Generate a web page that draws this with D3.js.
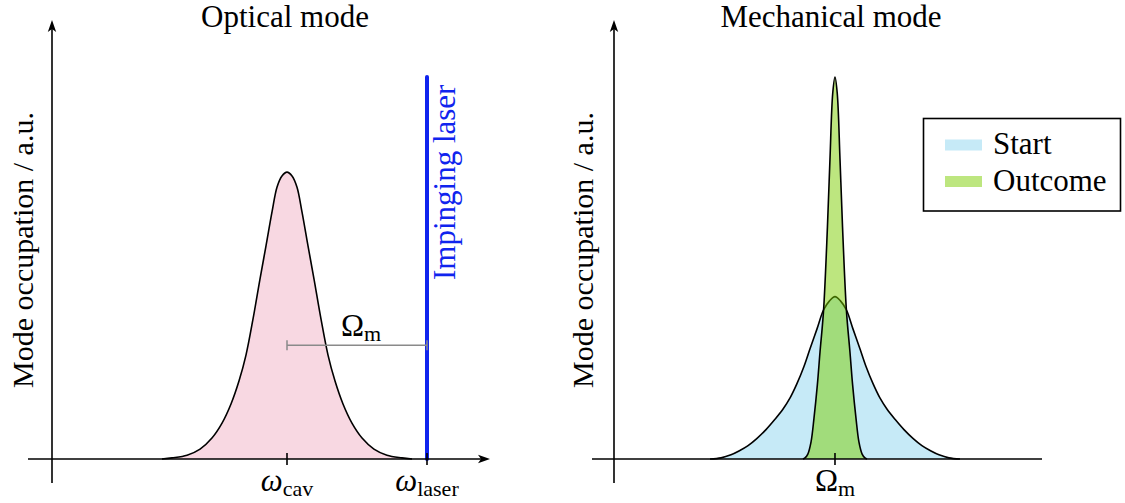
<!DOCTYPE html>
<html>
<head>
<meta charset="utf-8">
<script src="https://cdn.jsdelivr.net/npm/d3@7/dist/d3.min.js"></script>
<style>
  html, body { margin: 0; padding: 0; background: #fff; }
  svg { display: block; }
  text { font-family: "Liberation Serif", "DejaVu Serif", serif; fill: #000; }
</style>
</head>
<body>
<svg id="chart" width="1125" height="503"></svg>
<script>
// Optical cavity line shape (detuning from ω_cav in units of Ω_m, occupation in a.u.)
const opticalDetuning = [-0.893, -0.821, -0.714, -0.621, -0.536, -0.464, -0.4, -0.343, -0.293, -0.243, -0.193, -0.15, -0.107, -0.071, -0.036, 0,
                          0.036, 0.071, 0.107, 0.15, 0.193, 0.243, 0.293, 0.343, 0.4, 0.464, 0.536, 0.621, 0.714, 0.821, 0.893];
const opticalOccupation = [0, 0.003, 0.010, 0.026, 0.055, 0.094, 0.144, 0.204, 0.272, 0.366, 0.471, 0.558, 0.647, 0.712, 0.741, 0.751,
                           0.741, 0.712, 0.647, 0.558, 0.471, 0.366, 0.272, 0.204, 0.144, 0.094, 0.055, 0.026, 0.010, 0.003, 0];

// Laser line, sitting one mechanical frequency above the cavity
const laserDetuning = 1;
const laserOccupation = 1;
const dimensionLevel = 0.298;

// Mechanical mode, before cooling
const startDetuning = [-0.893, -0.814, -0.743, -0.686, -0.621, -0.557, -0.493, -0.429, -0.371, -0.321, -0.271, -0.221, -0.179, -0.129, -0.082, -0.039, 0,
                        0.039, 0.082, 0.129, 0.179, 0.221, 0.271, 0.321, 0.371, 0.429, 0.493, 0.557, 0.621, 0.686, 0.743, 0.814, 0.893];
const startOccupation = [0, 0.003, 0.011, 0.021, 0.035, 0.054, 0.077, 0.104, 0.131, 0.160, 0.198, 0.243, 0.288, 0.340, 0.390, 0.414, 0.425,
                         0.414, 0.390, 0.340, 0.288, 0.243, 0.198, 0.160, 0.131, 0.104, 0.077, 0.054, 0.035, 0.021, 0.011, 0.003, 0];

// Mechanical mode, after cooling
const outcomeDetuning = [-0.229, -0.214, -0.194, -0.171, -0.15, -0.126, -0.107, -0.082, -0.054, -0.036, -0.016, 0,
                          0.016, 0.036, 0.054, 0.082, 0.107, 0.126, 0.15, 0.171, 0.194, 0.214, 0.229];
const outcomeOccupation = [0, 0.003, 0.013, 0.045, 0.107, 0.194, 0.280, 0.387, 0.607, 0.783, 0.958, 1.0,
                           0.958, 0.783, 0.607, 0.387, 0.280, 0.194, 0.107, 0.045, 0.013, 0.003, 0];

const leftTicks = [0, 1];
const leftTickLabels = [["ω", "cav"], ["ω", "laser"]];
const rightTicks = [0];
const rightTickLabels = [["Ω", "m"]];
const panelTitles = ["Optical mode", "Mechanical mode"];
const yLabel = "Mode occupation / a.u.";
const laserLabel = "Impinging laser";
const legendLabels = ["Start", "Outcome"];

const colors = {
  optical: "#f8d8e2",
  start: "#c6eaf7",
  outcome: "rgb(123,205,0)",
  laser: "#1024ee",
  dimension: "#8a8a8a"
};

const svg = d3.select("#chart");
const FS = 31;

const y = d3.scaleLinear().domain([0, 1]).range([459, 77]);
const xL = d3.scaleLinear().domain([-1.85, 1.45]).range([28, 490]);
const xR = d3.scaleLinear().domain([-1.736, 1.479]).range([592, 1042]);

const smooth = d3.curveCatmullRom.alpha(0.5);

function zip(xs, ys) { return xs.map((v, i) => ({ x: v, y: ys[i] })); }

function area(xs) {
  return d3.area().x(d => xs(d.x)).y0(y(0)).y1(d => y(d.y)).curve(smooth);
}
function line(xs) {
  return d3.line().x(d => xs(d.x)).y(d => y(d.y)).curve(smooth);
}

function arrowUp(g, x, tip) {
  g.append("path")
    .attr("d", `M${x},${tip} L${x - 4.2},${tip + 12} L${x},${tip + 9} L${x + 4.2},${tip + 12} Z`)
    .attr("fill", "#000");
}
function arrowRight(g, tip, yy) {
  g.append("path")
    .attr("d", `M${tip},${yy} L${tip - 12},${yy - 4.2} L${tip - 9},${yy} L${tip - 12},${yy + 4.2} Z`)
    .attr("fill", "#000");
}

function subLabel(g, x, yy, main, sub, italic) {
  const t = g.append("text").attr("x", x).attr("y", yy).attr("text-anchor", "middle")
    .style("font-size", FS + "px");
  t.append("tspan").text(main).style("font-style", italic ? "italic" : "normal");
  t.append("tspan").text(sub).attr("dy", 5).style("font-size", "22px");
  return t;
}

function yAxisLabel(g, xBase) {
  g.append("text")
    .attr("transform", `translate(${xBase},250) rotate(-90)`)
    .attr("text-anchor", "middle")
    .style("font-size", "30px")
    .text(yLabel);
}

/* ---------- Left panel: optical mode ---------- */
const left = svg.append("g");
const optical = zip(opticalDetuning, opticalOccupation);
left.append("path").datum(optical).attr("d", area(xL)).attr("fill", colors.optical);
left.append("path").datum(optical).attr("d", line(xL))
  .attr("fill", "none").attr("stroke", "#000").attr("stroke-width", 1.6);

// laser line
left.append("line")
  .attr("x1", xL(laserDetuning)).attr("x2", xL(laserDetuning))
  .attr("y1", y(0)).attr("y2", y(laserOccupation))
  .attr("stroke", colors.laser).attr("stroke-width", 4).attr("stroke-linecap", "round");

left.append("text")
  .attr("transform", `translate(${xL(laserDetuning) + 28},280) rotate(-90)`)
  .attr("text-anchor", "start")
  .style("font-size", FS + "px")
  .style("fill", colors.laser)
  .text(laserLabel);

// Ω_m separation marker
const dimY = y(dimensionLevel);
left.append("line")
  .attr("x1", xL(0)).attr("x2", xL(laserDetuning)).attr("y1", dimY).attr("y2", dimY)
  .attr("stroke", colors.dimension).attr("stroke-width", 1.5);
[0, laserDetuning].forEach(v => {
  left.append("line")
    .attr("x1", xL(v)).attr("x2", xL(v)).attr("y1", dimY - 5).attr("y2", dimY + 5)
    .attr("stroke", colors.dimension).attr("stroke-width", 1.5);
});
subLabel(left, xL(laserDetuning / 2) + 4, dimY - 9, "Ω", "m", false);

// axes
left.append("line").attr("x1", xL(-1.85)).attr("x2", xL(1.45) - 6)
  .attr("y1", y(0)).attr("y2", y(0)).attr("stroke", "#000").attr("stroke-width", 1.6);
arrowRight(left, xL(1.45), y(0));
left.append("line").attr("x1", 52).attr("x2", 52)
  .attr("y1", 483).attr("y2", 26).attr("stroke", "#000").attr("stroke-width", 1.6);
arrowUp(left, 52, 20);

leftTicks.forEach((v, i) => {
  left.append("line").attr("x1", xL(v)).attr("x2", xL(v)).attr("y1", y(0) - 6).attr("y2", y(0) + 6)
    .attr("stroke", "#000").attr("stroke-width", 1.6);
  subLabel(left, xL(v), 491, leftTickLabels[i][0], leftTickLabels[i][1], true);
});

left.append("text").attr("x", 285).attr("y", 27).attr("text-anchor", "middle")
  .style("font-size", FS + "px").text(panelTitles[0]);
yAxisLabel(left, 33);

/* ---------- Right panel: mechanical mode ---------- */
const right = svg.append("g");
const start = zip(startDetuning, startOccupation);
const outcome = zip(outcomeDetuning, outcomeOccupation);

right.append("path").datum(start).attr("d", area(xR)).attr("fill", colors.start);
right.append("path").datum(start).attr("d", line(xR))
  .attr("fill", "none").attr("stroke", "#000").attr("stroke-width", 1.6);
right.append("path").datum(outcome).attr("d", area(xR))
  .attr("fill", colors.outcome).attr("fill-opacity", 0.5);
right.append("path").datum(outcome).attr("d", line(xR))
  .attr("fill", "none").attr("stroke", "#000").attr("stroke-width", 1.6);

right.append("line").attr("x1", xR(-1.736)).attr("x2", xR(1.479))
  .attr("y1", y(0)).attr("y2", y(0)).attr("stroke", "#000").attr("stroke-width", 1.6);
right.append("line").attr("x1", 614).attr("x2", 614)
  .attr("y1", 483).attr("y2", 26).attr("stroke", "#000").attr("stroke-width", 1.6);
arrowUp(right, 614, 20);

rightTicks.forEach((v, i) => {
  right.append("line").attr("x1", xR(v)).attr("x2", xR(v)).attr("y1", y(0) - 6).attr("y2", y(0) + 6)
    .attr("stroke", "#000").attr("stroke-width", 1.6);
  subLabel(right, xR(v), 491, rightTickLabels[i][0], rightTickLabels[i][1], false);
});

right.append("text").attr("x", 831).attr("y", 27).attr("text-anchor", "middle")
  .style("font-size", FS + "px").text(panelTitles[1]);
yAxisLabel(right, 593);

// legend
const legend = right.append("g");
legend.append("rect").attr("x", 923.5).attr("y", 118.5).attr("width", 197).attr("height", 92.5)
  .attr("fill", "#fff").attr("stroke", "#000").attr("stroke-width", 1.6);
const legendFills = [
  { fill: colors.start, opacity: 1 },
  { fill: colors.outcome, opacity: 0.5 }
];
legendLabels.forEach((lab, i) => {
  const cy = 145 + i * 36.5;
  legend.append("rect").attr("x", 945).attr("y", cy - 5.5).attr("width", 37).attr("height", 11)
    .attr("fill", legendFills[i].fill).attr("fill-opacity", legendFills[i].opacity);
  legend.append("text").attr("x", 993).attr("y", cy + 9)
    .style("font-size", FS + "px").text(lab);
});
</script>
</body>
</html>
